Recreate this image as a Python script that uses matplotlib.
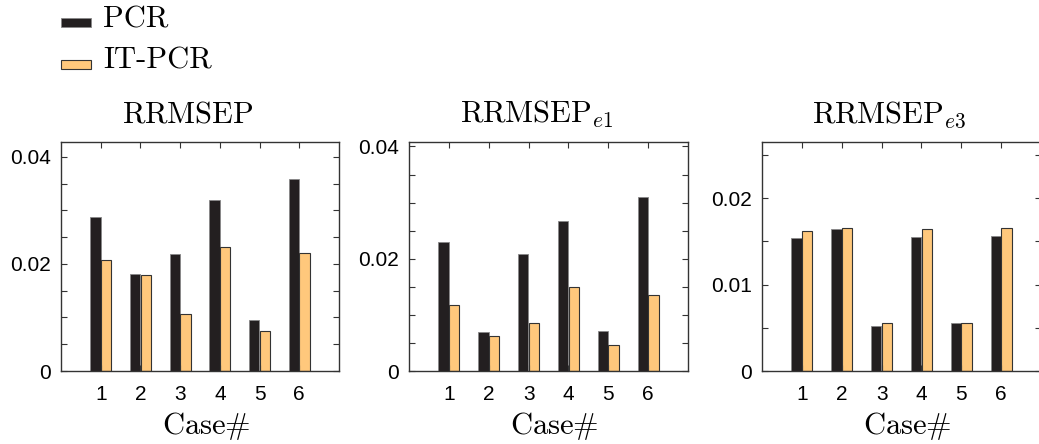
import numpy as np
import matplotlib
matplotlib.use('Agg')
import matplotlib.pyplot as plt
from matplotlib.patches import Patch, Rectangle
from matplotlib.legend_handler import HandlerPatch
from matplotlib.ticker import MultipleLocator

plt.rcParams['font.family'] = ['Liberation Sans', 'DejaVu Sans']
plt.rcParams['mathtext.fontset'] = 'cm'

cases = [1, 2, 3, 4, 5, 6]
series_names = ['PCR', 'IT-PCR']
titles = [r'$\mathrm{RRMSEP}$', r'$\mathrm{RRMSEP}_{e1}$', r'$\mathrm{RRMSEP}_{e3}$']

pcr_rrmsep = [0.0288, 0.0182, 0.0219, 0.0319, 0.0095, 0.0358]
itpcr_rrmsep = [0.0207, 0.0179, 0.0107, 0.0231, 0.0075, 0.0221]

pcr_e1 = [0.0230, 0.0070, 0.0209, 0.0267, 0.0072, 0.0310]
itpcr_e1 = [0.0117, 0.0063, 0.0086, 0.0149, 0.0046, 0.0135]

pcr_e3 = [0.0154, 0.0164, 0.0052, 0.0155, 0.0055, 0.0156]
itpcr_e3 = [0.0162, 0.0165, 0.0055, 0.0164, 0.0055, 0.0165]

pcr_all = [pcr_rrmsep, pcr_e1, pcr_e3]
itpcr_all = [itpcr_rrmsep, itpcr_e1, itpcr_e3]
ylims = [0.0428, 0.0408, 0.0265]
yticks = [[0, 0.02, 0.04], [0, 0.02, 0.04], [0, 0.01, 0.02]]
yticklabels = [['0', '0.02', '0.04'], ['0', '0.02', '0.04'], ['0', '0.01', '0.02']]

black = '#231f20'
orange = '#ffc87c'

W, H = 1039, 444
fig = plt.figure(figsize=(W / 100, H / 100), dpi=100)

# axes boxes in pixels: left, right, top, bottom
boxes = [(61, 339, 142, 371), (409, 688, 142, 371), (762, 1041, 142, 371)]

x = np.array(cases)
w = 0.26
for i in range(3):
    l, r, t, b = boxes[i]
    ax = fig.add_axes([l / W, (H - b) / H, (r - l) / W, (b - t) / H])
    ax.bar(x - 0.135, pcr_all[i], width=w, color=black, edgecolor='#888888', linewidth=0.6)
    ax.bar(x + 0.135, itpcr_all[i], width=w, color=orange, edgecolor='#333333', linewidth=0.8)
    ax.set_xlim(0, 7)
    ax.set_ylim(0, ylims[i])
    ax.set_xticks(cases)
    ax.set_yticks(yticks[i])
    ax.set_yticklabels(yticklabels[i])
    ax.yaxis.set_minor_locator(MultipleLocator(0.005))
    ax.tick_params(which='both', direction='in', top=True, right=True, length=4,
                   width=0.8, color='#333333', labelsize=15)
    ax.tick_params(axis='y', pad=7)
    ax.tick_params(axis='x', pad=10)
    for sp in ax.spines.values():
        sp.set_linewidth(1.0)
        sp.set_color('#333333')
    ax.set_title(titles[i], fontsize=22, pad=14, x=0.5 - 12 / (r - l))
    ax.set_xlabel(r'$\mathrm{Case}\#$', fontsize=22, labelpad=4.5)
    ax.xaxis.label.set_x(0.5 + 6 / (r - l))


def flat_patch(legend, orig_handle, xdescent, ydescent, width, height, fontsize):
    return Rectangle((-xdescent, -ydescent), width, 6.5)


handles = [Patch(facecolor=black, edgecolor='#888888', linewidth=0.6),
           Patch(facecolor=orange, edgecolor='#333333', linewidth=0.8)]
fig.legend(handles, series_names, loc='upper left', bbox_to_anchor=(61 / W, 1 - 6 / H),
           frameon=False, prop={'family': 'cmr10', 'size': 22},
           borderpad=0, borderaxespad=0,
           handler_map={Patch: HandlerPatch(patch_func=flat_patch)},
           handlelength=0.98, handleheight=0.7, handletextpad=0.4, labelspacing=0.45)

fig.savefig('out.png', dpi=100)
